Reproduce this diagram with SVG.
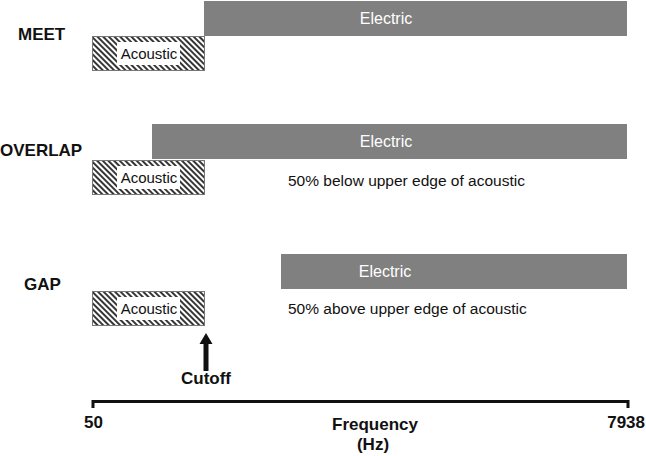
<svg xmlns="http://www.w3.org/2000/svg" width="646" height="456" viewBox="0 0 646 456">
<defs>
<pattern id="hatch" width="4" height="4" patternUnits="userSpaceOnUse" patternTransform="rotate(45)">
<rect width="4" height="4" fill="#fff"/>
<line x1="0" y1="1" x2="4" y2="1" stroke="#111" stroke-width="1.7"/>
</pattern>
<style>
.lab{font-family:"Liberation Sans",Arial,sans-serif;font-weight:bold;font-size:17px;fill:#111}
.el{fill:#808080}
.elt{font-family:"Liberation Sans",Arial,sans-serif;font-size:16px;fill:#fff;text-anchor:middle}
.ac{fill:url(#hatch);stroke:#777;stroke-width:1}
.acw{fill:#fff}
.act{font-family:"Liberation Sans",Arial,sans-serif;font-size:15px;fill:#111;text-anchor:middle}
.note{font-family:"Liberation Sans",Arial,sans-serif;font-size:15.5px;fill:#111}
.ax{font-family:"Liberation Sans",Arial,sans-serif;font-weight:bold;font-size:17px;fill:#111}
</style>
</defs>
<rect width="646" height="456" fill="#fff"/>

<g id="meet">
<text class="lab" x="18" y="40">MEET</text>
<rect class="el" x="204" y="1" width="423" height="35"/>
<text class="elt" x="386" y="24">Electric</text>
<rect class="ac" x="92.5" y="36.5" width="112" height="34"/>
<rect class="acw" x="117" y="42" width="63" height="23"/>
<text class="act" x="149" y="59">Acoustic</text>
</g>

<g id="overlap">
<text class="lab" x="0" y="156">OVERLAP</text>
<rect class="el" x="152" y="124" width="475" height="35"/>
<text class="elt" x="386" y="147">Electric</text>
<rect class="ac" x="92.5" y="160.5" width="112" height="34"/>
<rect class="acw" x="117" y="166" width="63" height="23"/>
<text class="act" x="149" y="183">Acoustic</text>
<text class="note" x="288" y="186">50% below upper edge of acoustic</text>
</g>

<g id="gap">
<text class="lab" x="24" y="290">GAP</text>
<rect class="el" x="281" y="254" width="346" height="35"/>
<text class="elt" x="385" y="277">Electric</text>
<rect class="ac" x="92.5" y="291.5" width="112" height="34"/>
<rect class="acw" x="117" y="297" width="63" height="23"/>
<text class="act" x="149" y="314">Acoustic</text>
<text class="note" x="288" y="314">50% above upper edge of acoustic</text>
</g>

<g id="cutoff">
<path d="M206 333 L212.5 344 L208.5 344 L208.5 371 L203.5 371 L203.5 344 L199.5 344 Z" fill="#111"/>
<text class="ax" x="206" y="384" text-anchor="middle" font-size="15.5">Cutoff</text>
</g>

<g id="axis">
<path d="M93 408 V401.5 H628 V408" fill="none" stroke="#111" stroke-width="3"/>
<text class="ax" x="84" y="428">50</text>
<text class="ax" x="645" y="428" text-anchor="end">7938</text>
<text class="ax" x="375" y="430" text-anchor="middle">Frequency</text>
<text class="ax" x="373" y="450" text-anchor="middle">(Hz)</text>
</g>
</svg>
